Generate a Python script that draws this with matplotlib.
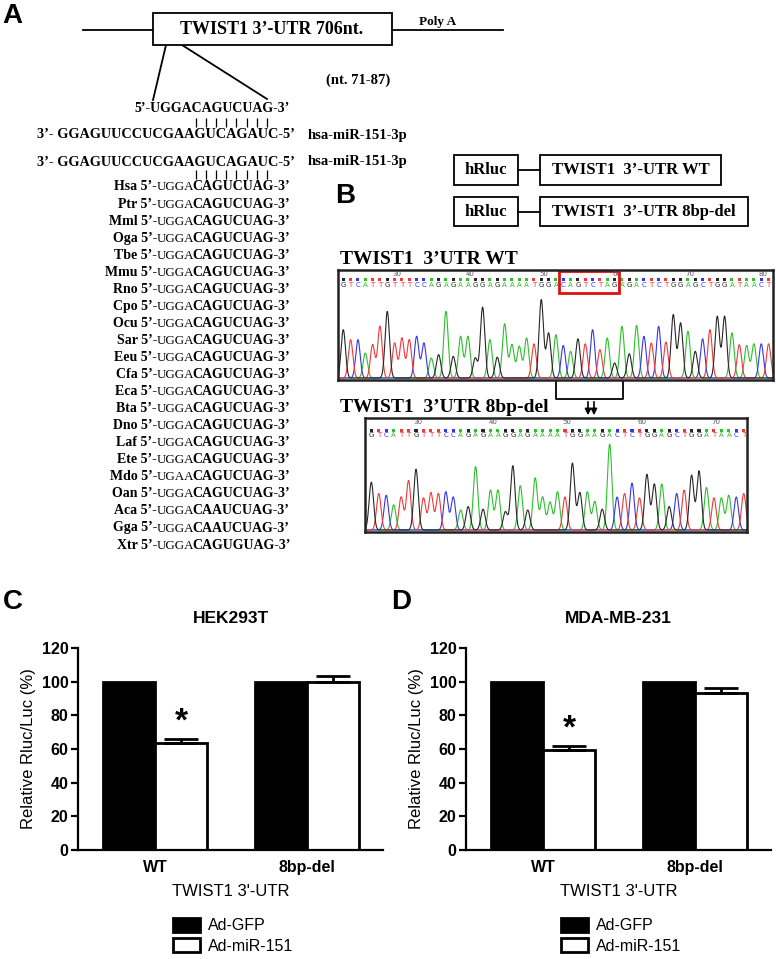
import numpy as np
import matplotlib
matplotlib.use('Agg')
import matplotlib.pyplot as plt
from matplotlib.patches import Rectangle

# ---- data ----
groups = ['WT', '8bp-del']
series_names = ['Ad-GFP', 'Ad-miR-151']
hek_gfp = [100, 100]
hek_mir = [63.5, 99.6]
hek_mir_err = [2.6, 3.8]
mda_gfp = [100, 100]
mda_mir = [59.5, 93.5]
mda_mir_err = [2.4, 2.5]

species = ['Hsa', 'Ptr', 'Mml', 'Oga', 'Tbe', 'Mmu', 'Rno', 'Cpo', 'Ocu', 'Sar', 'Eeu',
           'Cfa', 'Eca', 'Bta', 'Dno', 'Laf', 'Ete', 'Mdo', 'Oan', 'Aca', 'Gga', 'Xtr']
flank_5p = ['UGGA'] * 17 + ['UGAA'] + ['UGGA'] * 4
seed_site = ['CAGUCUAG'] * 19 + ['CAAUCUAG', 'CAAUCUAG', 'CAGUGUAG']

target_seq = '5’-UGGACAGUCUAG-3’'
mir_seq = '3’- GGAGUUCCUCGAAGUCAGAUC-5’'
mir_name = 'hsa-miR-151-3p'

wt_seq = 'GTCATTGTTTCCAGAGAAGGAGAAAATGGACAGTCTAGAGACTCTGGAGCTGGATAACT'
wt_heights = [0.58, 0.46, 0.46, 0.30, 0.40, 0.62, 0.80, 0.42, 0.48, 0.46,
              0.50, 0.42, 0.24, 0.28, 0.80, 0.26, 0.50, 0.50, 0.24, 0.85,
              0.46, 0.25, 0.65, 0.40, 0.38, 0.48, 0.41, 0.94, 0.54, 0.52,
              0.39, 0.32, 0.47, 0.41, 0.58, 0.34, 0.48, 0.18, 0.62, 0.29,
              0.63, 0.50, 0.42, 0.62, 0.43, 0.76, 0.66, 0.56, 0.32, 0.47,
              0.58, 0.74, 0.74, 0.54, 0.40, 0.39, 0.41, 0.41, 0.41]
wt_numbers = [30, 40, 50, 60, 70, 80]
del_seq = 'GTCATTGTTTCCAGAGAAGGAGAAAATGGAAGACTCTGGAGCTGGATAACT'
del_heights = [0.55, 0.42, 0.40, 0.29, 0.38, 0.57, 0.70, 0.37, 0.43, 0.42,
               0.44, 0.38, 0.23, 0.27, 0.73, 0.24, 0.46, 0.46, 0.21, 0.74,
               0.51, 0.23, 0.60, 0.38, 0.32, 0.44, 0.38, 0.77, 0.43, 0.44,
               0.33, 0.24, 0.99, 0.38, 0.42, 0.54, 0.37, 0.64, 0.53, 0.53,
               0.27, 0.42, 0.46, 0.63, 0.68, 0.49, 0.37, 0.37, 0.40, 0.38, 0.42]
del_numbers = [30, 40, 50, 60, 70]
del_start, del_len = 30, 8

BASE_COLORS = {'A': '#2fbf2f', 'C': '#3535e8', 'G': '#262626', 'T': '#ee3a3a'}

W, H = 776, 959
SERIF = 'Liberation Serif'
SANS = 'Liberation Sans'

fig = plt.figure(figsize=(W / 100, H / 100), dpi=100)


def px_axes(left, top, right, bottom):
    return fig.add_axes([left / W, 1 - bottom / H, (right - left) / W, (bottom - top) / H])


canvas = fig.add_axes([0, 0, 1, 1])
canvas.set_xlim(0, W)
canvas.set_ylim(H, 0)
canvas.axis('off')

# ---- panel A ----
canvas.text(2, 16, 'A', fontsize=20, fontweight='bold', family=SANS, va='center')
canvas.plot([83, 503], [29.5, 29.5], color='black', lw=1.3)
canvas.add_patch(Rectangle((152.5, 12.7), 239, 32.3, facecolor='white', edgecolor='black', lw=1.3, zorder=3))
canvas.text(272, 29.5, 'TWIST1 3’-UTR 706nt.', family=SERIF, fontweight='bold', fontsize=13,
            ha='center', va='center', zorder=4)
canvas.text(419, 22, 'Poly A', family=SERIF, fontweight='bold', fontsize=9.5, va='center')
canvas.plot([166, 153], [45, 100], color='black', lw=1.3)
canvas.plot([182, 267], [45, 99], color='black', lw=1.3)
canvas.text(358, 80, '(nt. 71-87)', family=SERIF, fontweight='bold', fontsize=10.5, ha='center', va='center')

canvas.text(290, 111.5, target_seq, family=SERIF, fontweight='bold', fontsize=10, ha='right', va='baseline')
seed_x = 196 + 10.1 * np.arange(8)
canvas.vlines(seed_x, 118, 127, color='black', lw=0.9)
for yy in (135, 162):
    canvas.text(295, yy + 3.5, mir_seq, family=SERIF, fontweight='bold', fontsize=10.3, ha='right', va='baseline')
    canvas.text(308, yy + 3.5, mir_name, family=SERIF, fontweight='bold', fontsize=10.5, va='baseline')
canvas.vlines(seed_x, 170, 179, color='black', lw=0.9)

for i, (sp, fl, core) in enumerate(zip(species, flank_5p, seed_site)):
    yy = 187 + 17.05 * i + 3.5
    canvas.text(157, yy, sp + ' 5’-', family=SERIF, fontweight='bold', fontsize=10, ha='right', va='baseline')
    canvas.text(157, yy, fl, family=SERIF, fontsize=9.4, va='baseline')
    canvas.text(192, yy, core + '-3’', family=SERIF, fontweight='bold', fontsize=10, va='baseline')

# ---- panel B constructs ----
canvas.text(335, 196, 'B', fontsize=20, fontweight='bold', family=SANS, va='center')
for top, bot, right, label in [(155, 185, 721, 'TWIST1  3’-UTR WT'), (197, 226, 748, 'TWIST1  3’-UTR 8bp-del')]:
    mid = (top + bot) / 2
    canvas.add_patch(Rectangle((454, top), 64, bot - top, facecolor='white', edgecolor='black', lw=1.3))
    canvas.text(486, mid, 'hRluc', family=SERIF, fontweight='bold', fontsize=12, ha='center', va='center')
    canvas.plot([518, 540], [mid, mid], color='black', lw=1.3)
    canvas.add_patch(Rectangle((540, top), right - 540, bot - top, facecolor='white', edgecolor='black', lw=1.3))
    canvas.text((540 + right) / 2, mid, label, family=SERIF, fontweight='bold', fontsize=12, ha='center', va='center')

canvas.text(340, 259, 'TWIST1  3’UTR WT', family=SERIF, fontweight='bold', fontsize=14, va='center')
canvas.text(340, 407, 'TWIST1  3’UTR 8bp-del', family=SERIF, fontweight='bold', fontsize=14, va='center')


def chromatogram(ax, seq, heights, numbers, num_idx0, y_num, y_sq, y_let, xlim, ylim):
    x = np.linspace(xlim[0], xlim[1], 3000)
    for b in 'ACTG':
        y = np.zeros_like(x)
        for i, (s, h) in enumerate(zip(seq, heights)):
            if s == b:
                y += h * np.exp(-0.5 * ((x - i) / 0.3) ** 2)
        ax.plot(x, y, color=BASE_COLORS[b], lw=0.8)
    idx = np.arange(len(seq))
    cols = [BASE_COLORS[s] for s in seq]
    ax.scatter(idx, [y_sq] * len(seq), marker='s', s=5, c=cols, linewidths=0, clip_on=False)
    for i, s in enumerate(seq):
        ax.text(i, y_let, s, color=BASE_COLORS[s], fontsize=5, ha='center', va='center', family='DejaVu Sans')
    for k, n in enumerate(numbers):
        ax.text(num_idx0 + 10 * k, y_num, str(n), color='#555555', fontsize=5, ha='center', va='center')
    ax.set_xlim(*xlim)
    ax.set_ylim(*ylim)
    ax.set_xticks([])
    ax.set_yticks([])
    for sp in ax.spines.values():
        sp.set_linewidth(1.8)
        sp.set_color('#222222')


ax_wt = px_axes(338, 270, 773, 380)
chromatogram(ax_wt, wt_seq, wt_heights, wt_numbers, 7.3, 1.25, 1.18, 1.12, (-0.72, 58.6), (-0.024, 1.296))
ax_wt.add_patch(Rectangle((del_start - 0.55, 1.02), del_len + 0.15, 0.265, fill=False, edgecolor='#e01010',
                          lw=2, clip_on=False))

ax_del = px_axes(364.7, 418, 747, 532)
chromatogram(ax_del, del_seq, del_heights, del_numbers, 6.3, 1.24, 1.15, 1.09, (-0.89, 50.44), (-0.023, 1.29))


def wt_px(i):
    return 343.3 + 7.334 * i


xl, xr = wt_px(del_start - 1), wt_px(del_start + del_len + 0.2)
canvas.plot([xl, xl, xr, xr], [381, 399, 399, 381], color='black', lw=1.3)
for ax_x in (588, 594):
    canvas.annotate('', xy=(ax_x, 418), xytext=(ax_x, 399),
                    arrowprops=dict(arrowstyle='-|>', color='black', lw=1.2, mutation_scale=9))

# ---- panels C, D bar charts ----
def bar_panel(ax, title, gfp, mir, err):
    x = np.arange(len(groups))
    w = 0.342
    ax.bar(x - w / 2, gfp, w, color='black', edgecolor='black', lw=2, label=series_names[0])
    ax.bar(x + w / 2, mir, w, color='white', edgecolor='black', lw=2, label=series_names[1])
    ax.errorbar(x + w / 2, mir, yerr=[np.zeros(len(err)), err], fmt='none', ecolor='black',
                elinewidth=2, capsize=12, capthick=2)
    ax.text(x[0] + w / 2, mir[0] + err[0] + 10, '*', fontsize=24, fontweight='bold',
            ha='center', va='center', family=SANS)
    ax.set_xlim(-0.507, 1.5)
    ax.set_ylim(0, 120)
    ax.set_yticks(np.arange(0, 121, 20))
    ax.set_xticks(x)
    ax.set_xticklabels(groups, fontweight='bold', fontsize=11.5, family=SANS)
    for lab in ax.get_yticklabels():
        lab.set_fontweight('bold')
        lab.set_fontsize(11.5)
        lab.set_family(SANS)
    ax.spines['top'].set_visible(False)
    ax.spines['right'].set_visible(False)
    ax.spines['left'].set_linewidth(1.6)
    ax.spines['bottom'].set_linewidth(1.6)
    ax.tick_params(axis='y', direction='out', length=5, width=1.6, pad=2)
    ax.tick_params(axis='x', length=0, pad=7)
    ax.set_ylabel('Relative Rluc/Luc (%)', fontsize=12, family=SANS, labelpad=4)
    ax.set_xlabel('TWIST1 3\'-UTR', fontsize=12, family=SANS, labelpad=7)
    ax.set_title(title, fontsize=12.5, fontweight='bold', family=SANS, pad=18)
    ax.legend(loc='upper left', bbox_to_anchor=(ax.get_position().x0 + 95 / W, 1 - 918 / H),
              bbox_transform=fig.transFigure, frameon=False,
              prop={'family': SANS, 'size': 11.5}, handlelength=1.7, handleheight=0.95,
              handletextpad=0.5, labelspacing=0.3, borderpad=0, borderaxespad=0)


ax_c = px_axes(78, 648, 383, 850)
bar_panel(ax_c, 'HEK293T', hek_gfp, hek_mir, hek_mir_err)
canvas.text(3, 602, 'C', fontsize=20, fontweight='bold', family=SANS, va='center')

ax_d = px_axes(466, 648, 771, 850)
bar_panel(ax_d, 'MDA-MB-231', mda_gfp, mda_mir, mda_mir_err)
canvas.text(391, 602, 'D', fontsize=20, fontweight='bold', family=SANS, va='center')

fig.savefig('out.png', dpi=100)
